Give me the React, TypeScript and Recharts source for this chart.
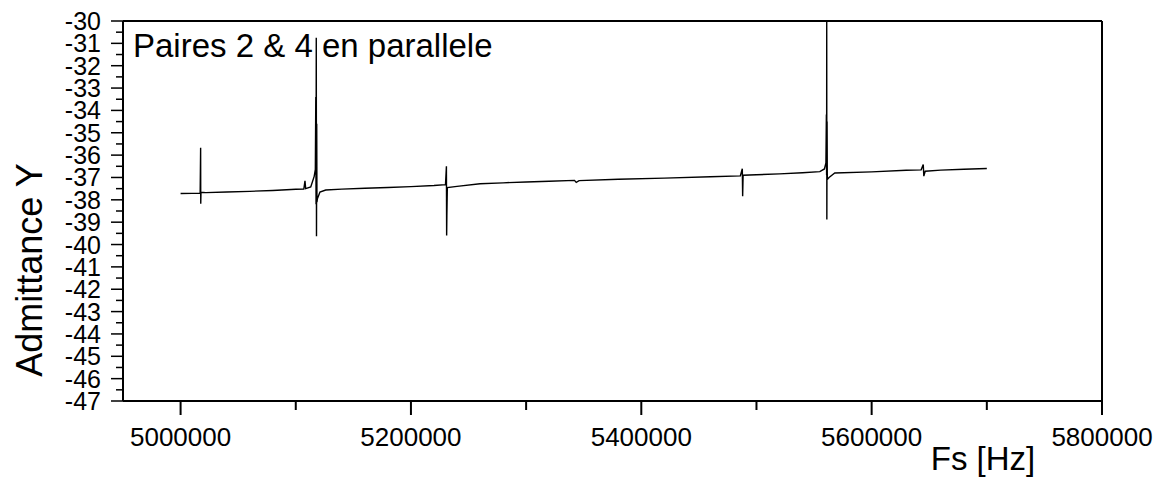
import { LineChart, Line, XAxis, YAxis, ReferenceLine } from "recharts";

// Fs [Hz]
const freqHz = [
  5000000, 5010000, 5017000, 5017400, 5017500, 5017700, 5022000, 5040000, 5060000, 5080000,
  5100000, 5107000, 5108000, 5108600, 5113000, 5116000, 5117000, 5117400, 5117600, 5117800,
  5118000, 5118200, 5118400, 5118800, 5121000, 5126000, 5140000, 5160000, 5180000, 5200000,
  5220000, 5230000, 5230800, 5231000, 5231200, 5231600, 5240000, 5260000, 5280000, 5300000,
  5320000, 5342000, 5343500, 5346000, 5380000, 5420000, 5460000, 5486000, 5487700, 5488000,
  5488400, 5500000, 5520000, 5540000, 5555000, 5559000, 5560300, 5560700, 5560900, 5561000,
  5561100, 5561300, 5561500, 5563000, 5568000, 5600000, 5630000, 5643000, 5644800, 5645300,
  5646500, 5660000, 5680000, 5700000,
];

// Admittance Y
const admittance = [
  -37.72, -37.71, -37.7, -35.67, -38.17, -37.66, -37.68, -37.65, -37.62, -37.58,
  -37.53, -37.52, -37.15, -37.5, -37.42, -36.95, -36.64, -33.4, -38.2, -30.75,
  -39.63, -34.6, -38.1, -37.95, -37.65, -37.56, -37.52, -37.48, -37.45, -37.41,
  -37.36, -37.32, -36.5, -39.6, -38.7, -37.45, -37.4, -37.28, -37.24, -37.2,
  -37.17, -37.13, -37.22, -37.14, -37.08, -37.03, -36.97, -36.93, -36.61, -37.84,
  -36.9, -36.88, -36.84, -36.79, -36.74, -36.62, -36.35, -34.18, -36.9, -30.0,
  -38.88, -34.5, -37.09, -37.0, -36.8, -36.75, -36.68, -36.66, -36.42, -36.94,
  -36.72, -36.67, -36.63, -36.6,
];

const xTicks = [5000000, 5100000, 5200000, 5300000, 5400000, 5500000, 5600000, 5700000, 5800000];
const xLabelled = [5000000, 5200000, 5400000, 5600000, 5800000];

const yTicks = [
  -47, -46.5, -46, -45.5, -45, -44.5, -44, -43.5, -43, -42.5, -42, -41.5, -41, -40.5, -40,
  -39.5, -39, -38.5, -38, -37.5, -37, -36.5, -36, -35.5, -35, -34.5, -34, -33.5, -33, -32.5,
  -32, -31.5, -31, -30.5, -30,
];

const data = freqHz.map((f, i) => ({ f, y: admittance[i] }));

const FONT = "'Liberation Sans', Arial, sans-serif";

function XTick({ x, y, payload }: any) {
  const major = xLabelled.includes(payload.value);
  return (
    <g>
      <line x1={x} x2={x} y1={y} y2={y + (major ? 14 : 9)} stroke="#000" strokeWidth={2} />
      {major && (
        <text x={x} y={y + 45} textAnchor="middle" fontSize={26} fontFamily={FONT} fill="#000">
          {payload.value}
        </text>
      )}
    </g>
  );
}

function YTick({ x, y, payload }: any) {
  const major = Number.isInteger(payload.value);
  return (
    <g>
      <line x1={x} x2={x - (major ? 12 : 7)} y1={y} y2={y} stroke="#000" strokeWidth={1.5} />
      {major && (
        <text
          x={x - 22}
          y={y}
          dy="0.36em"
          textAnchor="end"
          fontSize={25}
          fontFamily={FONT}
          fill="#000"
        >
          {payload.value}
        </text>
      )}
    </g>
  );
}

export default function App() {
  return (
    <div style={{ position: "absolute", left: 0, top: 0, width: 1161, height: 483, background: "#fff" }}>
      <LineChart width={1161} height={483} data={data} margin={{ top: 21, right: 59, left: 0, bottom: 0 }}>
        <XAxis
          dataKey="f"
          type="number"
          domain={[4950000, 5800000]}
          ticks={xTicks}
          interval={0}
          allowDataOverflow
          height={82}
          tickSize={0}
          tickMargin={0}
          tickLine={false}
          axisLine={{ stroke: "#000", strokeWidth: 2 }}
          tick={<XTick />}
        />
        <YAxis
          type="number"
          domain={[-47, -30]}
          ticks={yTicks}
          interval={0}
          allowDataOverflow
          width={123}
          tickSize={0}
          tickMargin={0}
          tickLine={false}
          axisLine={{ stroke: "#000", strokeWidth: 2 }}
          tick={<YTick />}
        />
        <ReferenceLine y={-30} stroke="#000" strokeWidth={2} />
        <ReferenceLine x={5800000} stroke="#000" strokeWidth={2} />
        <Line
          type="linear"
          dataKey="y"
          stroke="#000"
          strokeWidth={1.4}
          dot={false}
          isAnimationActive={false}
        />
      </LineChart>
      <svg
        width={1161}
        height={483}
        style={{ position: "absolute", left: 0, top: 0, pointerEvents: "none" }}
      >
        <text x={133} y={57} fontSize={33} fontFamily={FONT} fill="#000">
          Paires 2 &amp; 4 en parallele
        </text>
        <text x={983} y={470} textAnchor="middle" fontSize={33} fontFamily={FONT} fill="#000">
          Fs [Hz]
        </text>
        <text
          x={42}
          y={270}
          textAnchor="middle"
          fontSize={36}
          fontFamily={FONT}
          fill="#000"
          transform="rotate(-90 42 270)"
        >
          Admittance Y
        </text>
      </svg>
    </div>
  );
}
